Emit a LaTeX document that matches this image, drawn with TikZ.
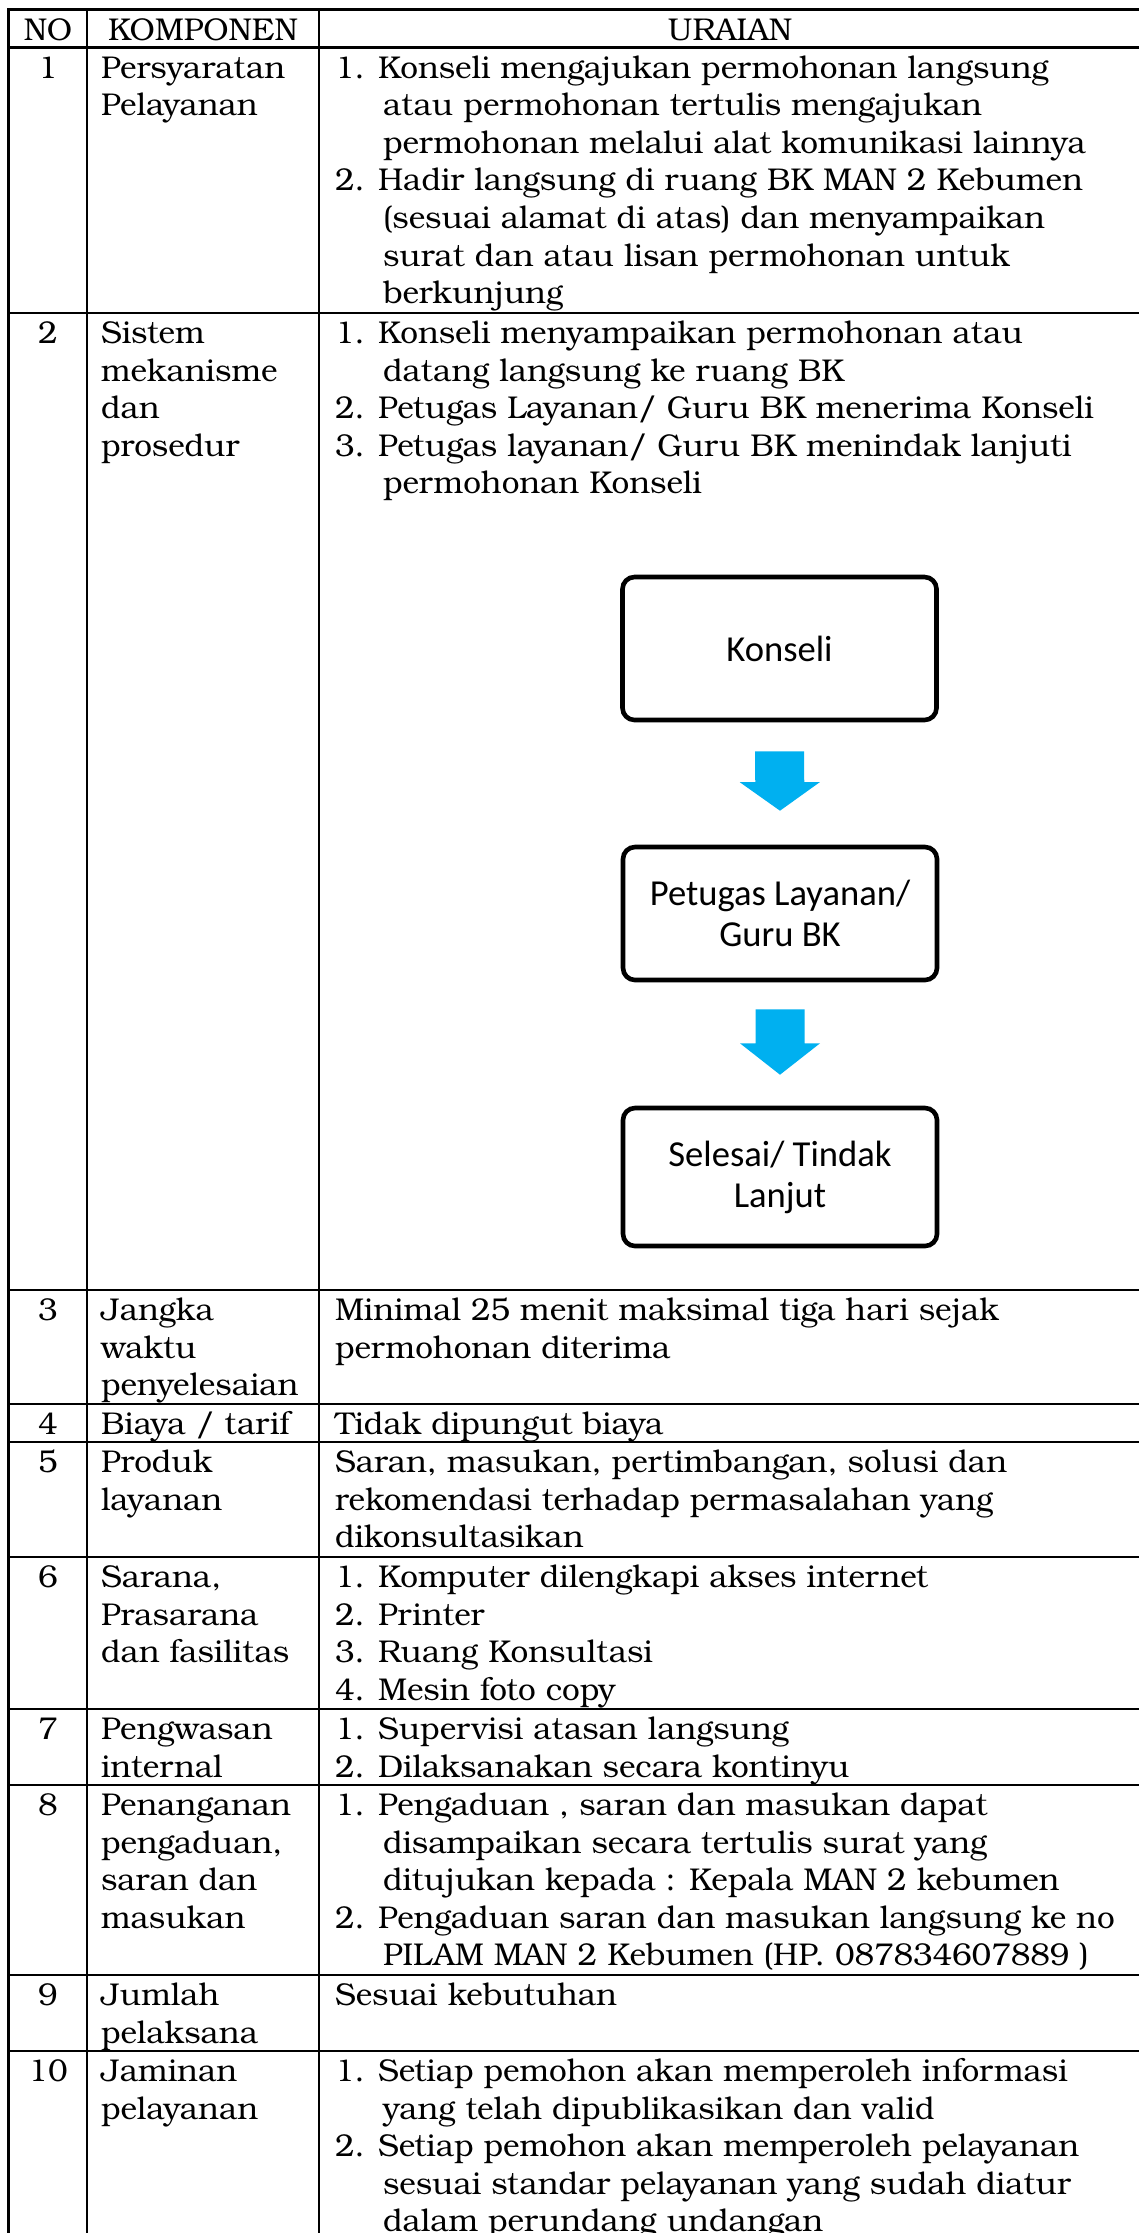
\documentclass[tikz,border=0pt]{standalone}
\usepackage{fontspec}
\usetikzlibrary{calc}
\newfontfamily\bkfamily{TeX Gyre Bonum}
\newfontfamily\cbfamily{Carlito}
\newcommand\bkfont{\bkfamily\fontsize{15.75pt}{18.8pt}\selectfont}
\newcommand\cbfont{\cbfamily\fontsize{18.3pt}{20.5pt}\selectfont}
\definecolor{arrowblue}{HTML}{00B0F0}
\tikzset{
  txt/.style={inner sep=0pt, outer sep=0pt, anchor=base west, font=\bkfont},
  num/.style={inner sep=0pt, outer sep=0pt, anchor=base, font=\bkfont},
  rule/.style={line width=1.15pt, line cap=rect},
  flowbox/.style={draw, line width=2.3pt, rounded corners=6pt, minimum width=157pt,
                  inner sep=0pt, align=center, font=\cbfont},
}
% one text line of a cell: name, x, row top, line number, text
\newcommand\tline[5]{\node[txt] (#1) at (#2,{#3+30.5+(#4-1)*37.6}) {#5};}
% row number in the NO column: name, row top, text
\newcommand\nline[3]{\node[num] (#1) at (48,{#2+30.5}) {#3};}
% blue block arrow from start coordinate to tip coordinate
\newcommand\blockarrow[2]{%
  \fill[arrowblue] ($(#1)+(-24.5,0)$) -- ($(#1)+(24.5,0)$)
    -- ($(#1)!0.52!(#2)+(24.5,0)$) -- ($(#1)!0.52!(#2)+(40,0)$)
    -- (#2)
    -- ($(#1)!0.52!(#2)+(-40,0)$) -- ($(#1)!0.52!(#2)+(-24.5,0)$) -- cycle;}
\begin{document}
\begin{tikzpicture}[x=0.5pt,y=-0.5pt]
\useasboundingbox (0,0) rectangle (1139,2233);
\fill[white] (0,0) rectangle (1139,2233);
\clip (0,0) rectangle (1139,2233);

% table rules
\foreach \t in {9.5,47.5,313,1290,1404,1442,1557,1709,1785,1975,2051}
  \draw[rule] (8.5,\t) -- (1160,\t);
\foreach \c in {8.5,87,319}
  \draw[rule] (\c,9.5) -- (\c,2260);

% header
\node[num] (hNo) at (48,40) {NO};
\node[num] (hKomp) at (203,40) {KOMPONEN};
\node[num] (hUr) at (730,40) {URAIAN};

% row 1
\nline{n1}{47.5}{1}
\tline{k1a}{101}{47.5}{1}{Persyaratan}
\tline{k1b}{101}{47.5}{2}{Pelayanan}
\tline{u1a}{335}{47.5}{1}{1. Konseli mengajukan permohonan langsung}
\tline{u1b}{383}{47.5}{2}{atau permohonan tertulis mengajukan}
\tline{u1c}{383}{47.5}{3}{permohonan melalui alat komunikasi lainnya}
\tline{u1d}{335}{47.5}{4}{2. Hadir langsung di ruang BK MAN 2 Kebumen}
\tline{u1e}{383}{47.5}{5}{(sesuai alamat di atas) dan menyampaikan}
\tline{u1f}{383}{47.5}{6}{surat dan atau lisan permohonan untuk}
\tline{u1g}{383}{47.5}{7}{berkunjung}

% row 2
\nline{n2}{313}{2}
\tline{k2a}{101}{313}{1}{Sistem}
\tline{k2b}{101}{313}{2}{mekanisme}
\tline{k2c}{101}{313}{3}{dan}
\tline{k2d}{101}{313}{4}{prosedur}
\tline{u2a}{335}{313}{1}{1. Konseli menyampaikan permohonan atau}
\tline{u2b}{383}{313}{2}{datang langsung ke ruang BK}
\tline{u2c}{335}{313}{3}{2. Petugas Layanan/ Guru BK menerima Konseli}
\tline{u2d}{335}{313}{4}{3. Petugas layanan/ Guru BK menindak lanjuti}
\tline{u2e}{383}{313}{5}{permohonan Konseli}

% flowchart of the procedure
\node[flowbox, minimum height=71.5pt] (b1) at (779.5,648.5) {Konseli};
\node[flowbox, minimum height=66.5pt] (b2) at (780,913.5) {Petugas Layanan/\\Guru BK};
\node[flowbox, minimum height=69pt] (b3) at (780,1177) {Selesai/ Tindak\\Lanjut};
\coordinate (a1s) at ($(b1.south)+(0,29)$);
\coordinate (a1e) at ($(b2.north)+(0,-34)$);
\coordinate (a2s) at ($(b2.south)+(0,27)$);
\coordinate (a2e) at ($(b3.north)+(0,-31)$);
\blockarrow{a1s}{a1e}
\blockarrow{a2s}{a2e}

% row 3
\nline{n3}{1290}{3}
\tline{k3a}{101}{1290}{1}{Jangka}
\tline{k3b}{101}{1290}{2}{waktu}
\tline{k3c}{101}{1290}{3}{penyelesaian}
\tline{u3a}{335}{1290}{1}{Minimal 25 menit maksimal tiga hari sejak}
\tline{u3b}{335}{1290}{2}{permohonan diterima}

% row 4
\nline{n4}{1404}{4}
\tline{k4a}{101}{1404}{1}{Biaya / tarif}
\tline{u4a}{335}{1404}{1}{Tidak dipungut biaya}

% row 5
\nline{n5}{1442}{5}
\tline{k5a}{101}{1442}{1}{Produk}
\tline{k5b}{101}{1442}{2}{layanan}
\tline{u5a}{335}{1442}{1}{Saran, masukan, pertimbangan, solusi dan}
\tline{u5b}{335}{1442}{2}{rekomendasi terhadap permasalahan yang}
\tline{u5c}{335}{1442}{3}{dikonsultasikan}

% row 6
\nline{n6}{1557}{6}
\tline{k6a}{101}{1557}{1}{Sarana,}
\tline{k6b}{101}{1557}{2}{Prasarana}
\tline{k6c}{101}{1557}{3}{dan fasilitas}
\tline{u6a}{335}{1557}{1}{1. Komputer dilengkapi akses internet}
\tline{u6b}{335}{1557}{2}{2. Printer}
\tline{u6c}{335}{1557}{3}{3. Ruang Konsultasi}
\tline{u6d}{335}{1557}{4}{4. Mesin foto copy}

% row 7
\nline{n7}{1709}{7}
\tline{k7a}{101}{1709}{1}{Pengwasan}
\tline{k7b}{101}{1709}{2}{internal}
\tline{u7a}{335}{1709}{1}{1. Supervisi atasan langsung}
\tline{u7b}{335}{1709}{2}{2. Dilaksanakan secara kontinyu}

% row 8
\nline{n8}{1785}{8}
\tline{k8a}{101}{1785}{1}{Penanganan}
\tline{k8b}{101}{1785}{2}{pengaduan,}
\tline{k8c}{101}{1785}{3}{saran dan}
\tline{k8d}{101}{1785}{4}{masukan}
\tline{u8a}{335}{1785}{1}{1. Pengaduan , saran dan masukan dapat}
\tline{u8b}{383}{1785}{2}{disampaikan secara tertulis surat yang}
\tline{u8c}{383}{1785}{3}{ditujukan kepada : Kepala MAN 2 kebumen}
\tline{u8d}{335}{1785}{4}{2. Pengaduan saran dan masukan langsung ke no}
\tline{u8e}{383}{1785}{5}{PILAM MAN 2 Kebumen (HP. 087834607889 )}

% row 9
\nline{n9}{1975}{9}
\tline{k9a}{101}{1975}{1}{Jumlah}
\tline{k9b}{101}{1975}{2}{pelaksana}
\tline{u9a}{335}{1975}{1}{Sesuai kebutuhan}

% row 10
\nline{n10}{2051}{10}
\tline{k10a}{101}{2051}{1}{Jaminan}
\tline{k10b}{101}{2051}{2}{pelayanan}
\tline{u10a}{335}{2051}{1}{1. Setiap pemohon akan memperoleh informasi}
\tline{u10b}{383}{2051}{2}{yang telah dipublikasikan dan valid}
\tline{u10c}{335}{2051}{3}{2. Setiap pemohon akan memperoleh pelayanan}
\tline{u10d}{383}{2051}{4}{sesuai standar pelayanan yang sudah diatur}
\tline{u10e}{383}{2051}{5}{dalam perundang undangan}
\end{tikzpicture}
\end{document}
